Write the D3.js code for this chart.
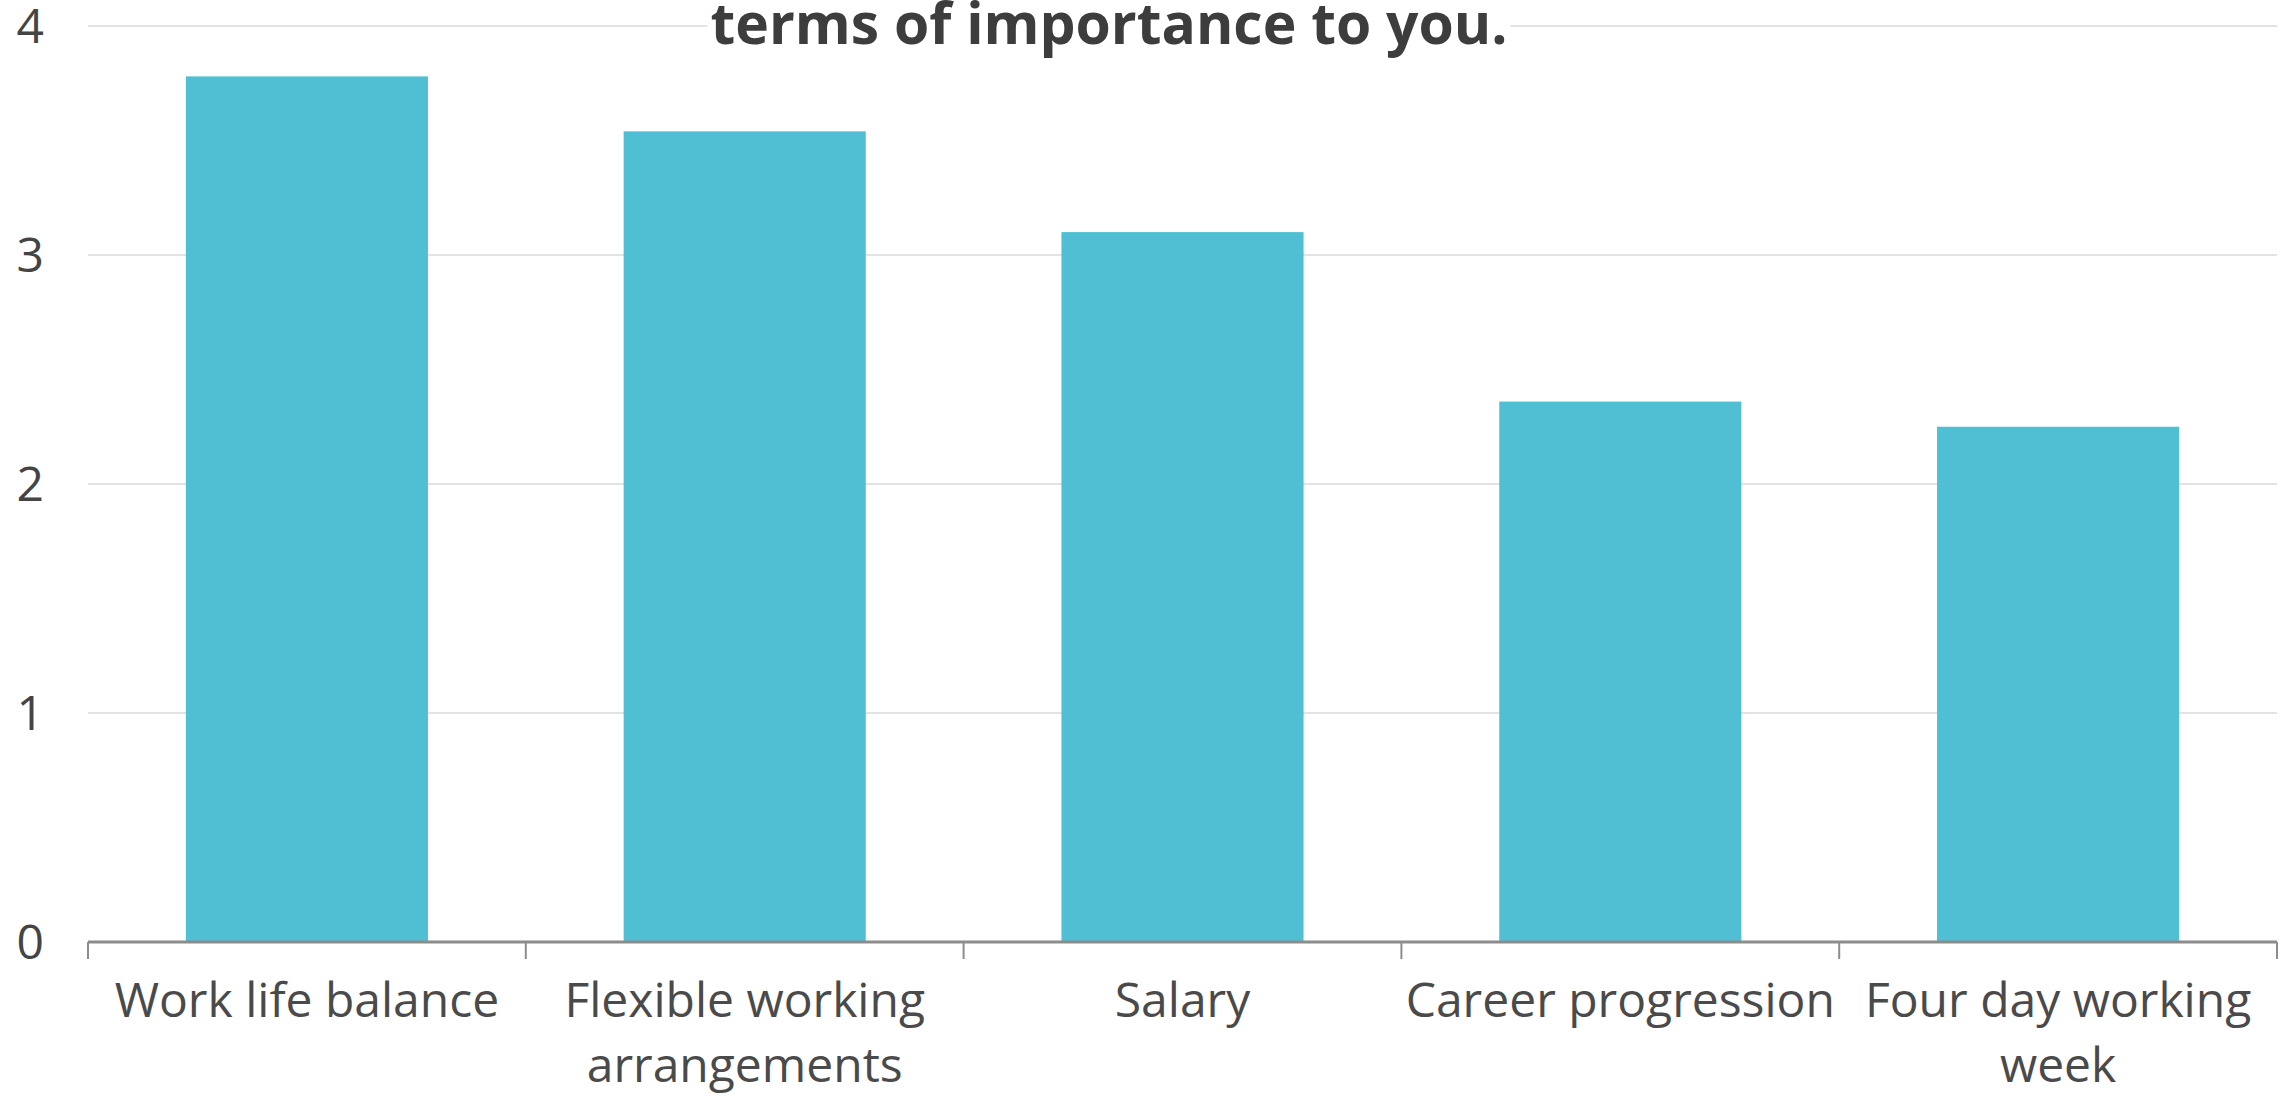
<!DOCTYPE html>
<html>
<head>
<meta charset="utf-8">
<script src="https://cdn.jsdelivr.net/npm/d3@7"></script>
<style>
  html, body { margin: 0; padding: 0; background: #ffffff; }
  svg { display: block; }
  text { font-family: "Open Sans", "Noto Sans", sans-serif; }
</style>
</head>
<body>
<svg id="chart" width="2293" height="1096"></svg>
<script>
// Average ranking of each factor
const categories = [
  ["Work life balance"],
  ["Flexible working", "arrangements"],
  ["Salary"],
  ["Career progression"],
  ["Four day working", "week"]
];
const values = [3.78, 3.54, 3.10, 2.36, 2.25];
const yTicks = [0, 1, 2, 3, 4];
const titleLine = "terms of importance to you.";

const svg = d3.select("#chart");
const plot = { left: 88, right: 2277, top: 26, bottom: 942 };

const keys = categories.map(c => c.join(" "));
const x = d3.scaleBand()
  .domain(keys)
  .range([plot.left, plot.right])
  .paddingInner(0.447)
  .paddingOuter(0.2235);

const y = d3.scaleLinear()
  .domain([0, 4])
  .range([plot.bottom, plot.top]);

// horizontal grid lines
svg.append("g")
  .selectAll("line")
  .data(yTicks.filter(d => d > 0))
  .join("line")
  .attr("x1", plot.left)
  .attr("x2", plot.right)
  .attr("y1", d => y(d))
  .attr("y2", d => y(d))
  .attr("stroke", "#e3e3e3")
  .attr("stroke-width", 2);

// y tick labels
svg.append("g")
  .selectAll("text")
  .data(yTicks)
  .join("text")
  .attr("x", 44)
  .attr("y", d => y(d) + 17)
  .attr("text-anchor", "end")
  .attr("font-size", 48)
  .attr("fill", "#444")
  .text(d => d);

// bars
svg.append("g")
  .selectAll("rect")
  .data(values)
  .join("rect")
  .attr("x", (d, i) => x(keys[i]))
  .attr("width", x.bandwidth())
  .attr("y", d => y(d))
  .attr("height", d => y(0) - y(d))
  .attr("fill", "#50bfd4");

// x axis line with category boundary ticks
const step = x.step();
const bounds = d3.range(keys.length + 1).map(i => plot.left + i * step);
const axis = svg.append("g");
axis.append("line")
  .attr("x1", plot.left)
  .attr("x2", plot.right)
  .attr("y1", y(0))
  .attr("y2", y(0))
  .attr("stroke", "#8c8c8c")
  .attr("stroke-width", 3);
axis.selectAll("line.tick")
  .data(bounds)
  .join("line")
  .attr("class", "tick")
  .attr("x1", d => d)
  .attr("x2", d => d)
  .attr("y1", y(0))
  .attr("y2", y(0) + 17)
  .attr("stroke", "#8c8c8c")
  .attr("stroke-width", 2);

// category labels (wrapped)
const labels = svg.append("g")
  .selectAll("text")
  .data(categories)
  .join("text")
  .attr("text-anchor", "middle")
  .attr("font-size", 48)
  .attr("fill", "#4a4a4a")
  .attr("transform", (d, i) => `translate(${x(keys[i]) + x.bandwidth() / 2},1017)`);
labels.selectAll("tspan")
  .data(d => d)
  .join("tspan")
  .attr("x", 0)
  .attr("y", (d, i) => i * 65)
  .text(d => d);

// title (second line of the chart heading)
const tg = svg.append("g");
const tbg = tg.append("rect").attr("fill", "#ffffff");
const tt = tg.append("text")
  .attr("x", 1109)
  .attr("y", 44)
  .attr("text-anchor", "middle")
  .attr("font-size", 57)
  .attr("font-weight", "bold")
  .attr("fill", "#3d3d3d")
  .text(titleLine);
const bb = tt.node().getBBox();
tbg.attr("x", bb.x - 3).attr("y", bb.y).attr("width", bb.width + 6).attr("height", bb.height);
</script>
</body>
</html>
